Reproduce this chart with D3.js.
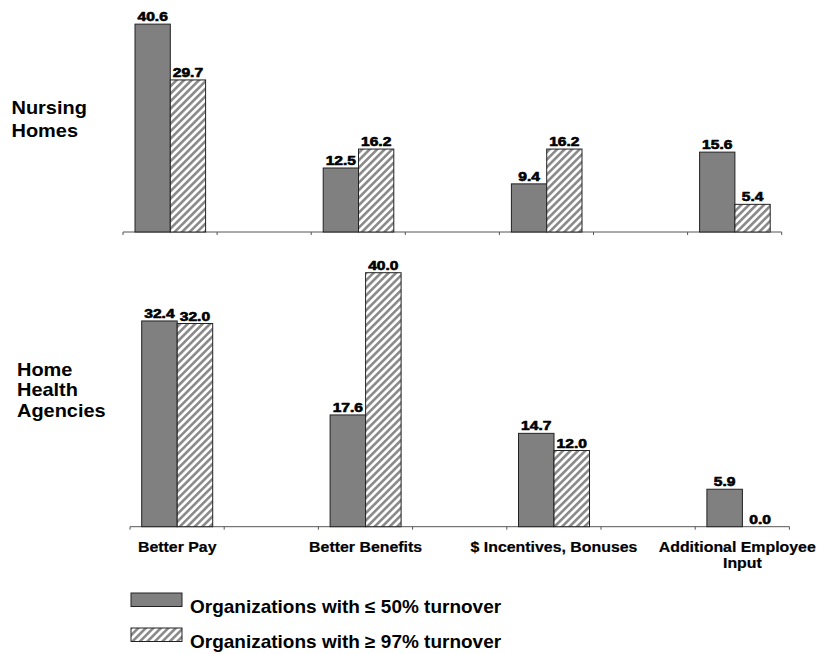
<!DOCTYPE html>
<html>
<head>
<meta charset="utf-8">
<script src="https://cdn.jsdelivr.net/npm/d3@7"></script>
<style>
  html, body { margin: 0; padding: 0; background: #fff; }
  svg { display: block; font-family: "Liberation Sans", Arial, sans-serif; }
</style>
</head>
<body>
<svg id="chart" width="818" height="654"></svg>
<script>
// ---- data ----
const categories = ["Better Pay", "Better Benefits", "$ Incentives, Bonuses", "Additional Employee Input"];
const categoryLines = [["Better Pay"], ["Better Benefits"], ["$ Incentives, Bonuses"], ["Additional Employee", "Input"]];
const seriesNames = ["Organizations with \u2264 50% turnover", "Organizations with \u2265 97% turnover"];
const seriesKeys = ["low", "high"];
const nursingLow = [40.6, 12.5, 9.4, 15.6];
const nursingHigh = [29.7, 16.2, 16.2, 5.4];
const homeLow = [32.4, 17.6, 14.7, 5.9];
const homeHigh = [32.0, 40.0, 12.0, 0.0];
const nursingLabel = ["Nursing", "Homes"];
const homeLabel = ["Home", "Health", "Agencies"];

// ---- setup ----
const svg = d3.select("#chart");
const defs = svg.append("defs");
const pat = defs.append("pattern")
  .attr("id", "hatch")
  .attr("patternUnits", "userSpaceOnUse")
  .attr("width", 5.3).attr("height", 10)
  .attr("patternTransform", "rotate(45)");
pat.append("rect").attr("width", 5.3).attr("height", 10).attr("fill", "#fff");
pat.append("rect").attr("x", 0).attr("width", 2.6).attr("height", 10).attr("fill", "#8a8a8a");

const fills = { low: "#808080", high: "url(#hatch)" };

function stext(parent, x, y, str, anchor, size, sx, strokeW) {
  const g = parent.append("g").attr("transform", `translate(${x},${y}) scale(${sx},1)`);
  const t = g.append("text")
    .attr("text-anchor", anchor)
    .attr("font-size", size)
    .attr("font-weight", "bold")
    .attr("fill", "#000")
    .text(str);
  if (strokeW) t.attr("stroke", "#000").attr("stroke-width", strokeW).attr("stroke-linejoin", "round");
  return g;
}

const yMax = 45;
const panels = [
  { low: nursingLow, high: nursingHigh, x0: 123, slot: 94.1, base: 232, pxPerUnit: 5.12, barOff: 12, barW: 35.3,
    label: nursingLabel, lx: 11.5, ly: 114, lh: 22.5 },
  { low: homeLow, high: homeHigh, x0: 130, slot: 94.2, base: 526.7, pxPerUnit: 6.35, barOff: 11.7, barW: 35.5,
    label: homeLabel, lx: 17, ly: 375.5, lh: 20.7 }
];

panels.forEach((p, pi) => {
  const g = svg.append("g");
  const x = d3.scaleBand().domain(categories).range([p.x0, p.x0 + 8 * p.slot]).padding(0);
  const xs = d3.scaleBand().domain(seriesKeys).range([p.barOff, p.barOff + 2 * p.barW]).padding(0);
  const y = d3.scaleLinear().domain([0, yMax]).range([p.base, p.base - yMax * p.pxPerUnit]);

  // axis line with ticks
  const axisEnd = p.x0 + 7 * p.slot;
  g.append("line").attr("x1", p.x0).attr("x2", axisEnd).attr("y1", y(0)).attr("y2", y(0))
    .attr("stroke", "#555").attr("stroke-width", 1);
  const tickXs = d3.range(0, 8).map(k => p.x0 + k * p.slot);
  g.selectAll(".tick").data(tickXs).join("line")
    .attr("x1", d => d).attr("x2", d => d)
    .attr("y1", y(0)).attr("y2", y(0) + 3)
    .attr("stroke", "#555").attr("stroke-width", 1);

  const rows = categories.map((c, i) => ({ cat: c, low: p.low[i], high: p.high[i] }));
  rows.forEach(r => {
    seriesKeys.forEach(k => {
      const bx = x(r.cat) + xs(k);
      const v = r[k];
      g.append("rect")
        .attr("x", bx).attr("y", y(v))
        .attr("width", xs.bandwidth()).attr("height", y(0) - y(v))
        .attr("fill", fills[k])
        .attr("stroke", "#222").attr("stroke-width", 1);
      stext(g, bx + xs.bandwidth() / 2, y(v) - 3, v.toFixed(1), "middle", 12, 1.3, 0.6);
    });
  });

  // panel label
  p.label.forEach((t, i) => stext(g, p.lx, p.ly + i * p.lh, t, "start", 19, 1.05));

  // category labels (bottom panel only)
  if (pi === 1) {
    categories.forEach((c, i) => {
      const cx = x(c) + xs.range()[0] + xs.bandwidth();
      categoryLines[i].forEach((t, j) => {
        const lab = stext(g, cx, 552 + j * 15.5, t, "middle", 15, 1.06, 0.2);
        const w = lab.node().getBBox().width * 1.06;
        if (cx + w / 2 > 816) {
          lab.attr("transform", `translate(${816 - w / 2},${552 + j * 15.5}) scale(1.06,1)`);
        }
      });
    });
  }
});

// legend
const lg = svg.append("g");
seriesKeys.forEach((k, i) => {
  const ly = 593 + i * 35;
  lg.append("rect").attr("x", 131).attr("y", ly).attr("width", 51).attr("height", 13.5)
    .attr("fill", fills[k]).attr("stroke", "#222").attr("stroke-width", 1);
  stext(lg, 190, ly + 19.5, seriesNames[i], "start", 18, 1.055);
});
</script>
</body>
</html>
